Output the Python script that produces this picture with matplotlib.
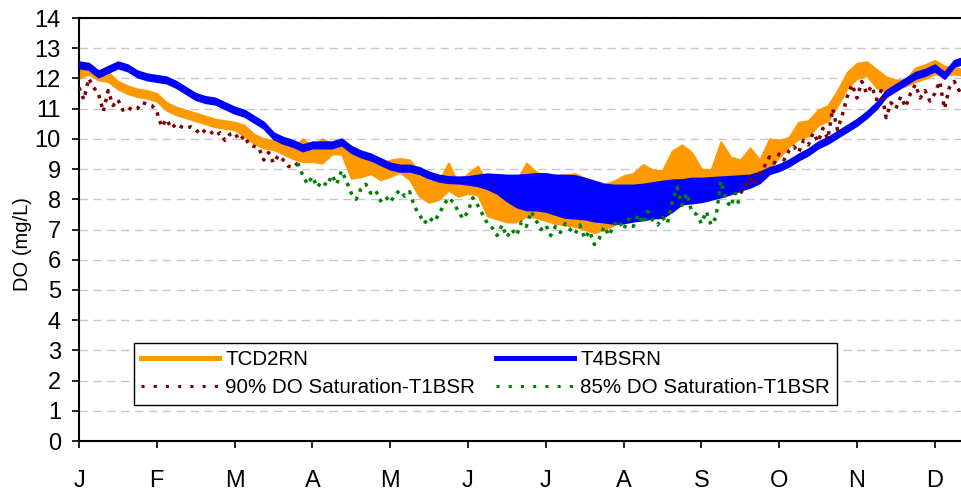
import matplotlib
matplotlib.use("Agg")
import matplotlib.pyplot as plt
from matplotlib.lines import Line2D
import numpy as np

plt.rcParams['font.family'] = ['Liberation Sans', 'DejaVu Sans']

months = ['J', 'F', 'M', 'A', 'M', 'J', 'J', 'A', 'S', 'O', 'N', 'D']

# daily range of DO (mg/L) sampled every 1/8 month from Jan 1
tcd2rn_hi = [12.3, 12.5, 12.2, 12.2, 11.9, 11.75, 11.65, 11.6, 11.5, 11.2,
             11.05, 10.95, 10.85, 10.75, 10.65, 10.6, 10.55, 10.45, 10.15, 10.0,
             9.95, 9.85, 9.7, 10.0, 9.75, 10.0, 9.85, 9.8, 9.5, 9.4,
             9.35, 9.15, 9.3, 9.35, 9.3, 8.9, 8.6, 8.6, 9.2, 8.5,
             8.85, 9.1, 8.5, 8.4, 8.4, 8.6, 9.2, 8.9, 8.8, 8.8,
             8.8, 8.85, 8.7, 8.6, 8.5, 8.6, 8.78, 8.85, 9.15, 8.97,
             8.95, 9.6, 9.8, 9.55, 9.0, 8.97, 9.9, 9.4, 9.3, 9.7,
             9.3, 10.0, 9.95, 10.05, 10.55, 10.6, 10.95, 11.1, 11.6, 12.2,
             12.5, 12.55, 12.3, 12.05, 11.95, 11.95, 12.35, 12.45, 12.6, 12.4,
             12.35, 12.3]
tcd2rn_lo = [12.0, 12.15, 11.95, 11.9, 11.65, 11.5, 11.4, 11.35, 11.25, 10.95,
             10.8, 10.7, 10.6, 10.5, 10.4, 10.35, 10.3, 10.1, 9.85, 9.7,
             9.65, 9.5, 9.35, 9.25, 9.25, 9.2, 9.5, 9.5, 8.7, 8.75,
             8.85, 8.65, 8.75, 8.9, 8.65, 8.1, 7.9, 8.0, 8.3, 8.1,
             8.2, 8.15, 7.45, 7.35, 7.25, 7.25, 7.45, 7.4, 7.3, 7.2,
             7.15, 7.1, 7.0, 6.9, 7.0, 7.15, 7.3, 7.4, 7.45, 7.5,
             7.55, 7.7, 8.6, 8.7, 8.7, 8.72, 8.74, 8.76, 8.78, 8.8,
             8.9, 9.0, 9.4, 9.75, 10.0, 10.1, 10.45, 10.6, 11.1, 11.7,
             12.0, 12.1, 11.7, 11.55, 11.65, 11.75, 11.9, 12.0, 12.15, 12.1,
             12.15, 12.1]

t4bsrn_hi = [12.55, 12.5, 12.25, 12.4, 12.55, 12.45, 12.25, 12.15, 12.1, 12.05,
             11.9, 11.7, 11.5, 11.4, 11.35, 11.2, 11.05, 10.95, 10.75, 10.55,
             10.2, 10.05, 9.95, 9.8, 9.9, 9.9, 9.9, 10.0, 9.75, 9.6,
             9.5, 9.35, 9.2, 9.13, 9.13, 9.05, 8.9, 8.8, 8.75, 8.74,
             8.75, 8.8, 8.84, 8.82, 8.8, 8.8, 8.82, 8.85, 8.85, 8.8,
             8.8, 8.78, 8.7, 8.6, 8.5, 8.47, 8.47, 8.47, 8.5, 8.55,
             8.6, 8.64, 8.65, 8.7, 8.7, 8.72, 8.74, 8.76, 8.78, 8.8,
             8.9, 9.05, 9.15, 9.3, 9.5, 9.67, 9.9, 10.05, 10.25, 10.45,
             10.65, 10.9, 11.2, 11.6, 11.8, 12.0, 12.2, 12.3, 12.45, 12.2,
             12.6, 12.7]
t4bsrn_lo = [12.35, 12.3, 12.05, 12.2, 12.35, 12.25, 12.05, 11.95, 11.9, 11.85,
             11.7, 11.5, 11.3, 11.2, 11.15, 11.0, 10.85, 10.75, 10.55, 10.35,
             10.0, 9.85, 9.75, 9.6, 9.7, 9.7, 9.7, 9.8, 9.55, 9.4,
             9.3, 9.15, 9.0, 8.93, 8.93, 8.85, 8.7, 8.6, 8.55, 8.54,
             8.5, 8.45, 8.35, 8.2, 7.95, 7.75, 7.65, 7.65, 7.6, 7.5,
             7.4, 7.38, 7.35, 7.28, 7.25, 7.2, 7.22, 7.28, 7.32, 7.38,
             7.4, 7.6, 7.85, 7.88, 7.92, 8.0, 8.08, 8.18, 8.3, 8.4,
             8.55, 8.85, 8.95, 9.1, 9.3, 9.47, 9.7, 9.85, 10.05, 10.25,
             10.45, 10.7, 11.0, 11.4, 11.6, 11.8, 12.0, 12.1, 12.25, 12.0,
             12.4, 12.5]

# 90% / 85% saturation at T1BSR, sampled every 1/16 month
sat90_early = [11.7, 11.3, 12.0, 11.7, 11.5, 10.9, 11.6, 11.1, 11.3, 10.95,
               11.05, 10.95, 11.0, 11.2, 11.15, 11.1, 10.9, 10.4, 10.65, 10.35,
               10.5, 10.4, 10.35, 10.4, 10.3, 10.15, 10.3, 10.25, 10.1, 10.2,
               9.95, 10.15, 10.2, 9.95, 10.1, 9.8, 9.75, 9.7, 9.3, 9.55,
               9.2, 9.45, 9.3, 9.1, 9.05, 9.2]
sat85 = [9.2, 8.8, 8.5, 8.75, 8.4, 8.6, 8.45, 8.8, 8.5, 8.95,
         8.6, 8.2, 8.0, 8.35, 8.5, 8.2, 8.3, 7.95, 8.1, 7.9,
         8.15, 8.3, 8.1, 8.25, 7.75, 7.5, 7.2, 7.4, 7.25, 7.5,
         7.8, 8.05, 7.9, 7.6, 7.35, 7.6, 8.05, 7.8, 7.5, 7.2,
         7.05, 6.8, 7.15, 6.75, 7.0, 6.8, 7.25, 7.1, 7.6, 7.3,
         7.0, 7.15, 6.8, 7.1, 6.9, 7.2, 7.0, 6.85, 7.15, 6.7,
         6.95, 6.5, 6.7, 7.1, 6.8, 7.15, 7.3, 7.0, 7.35, 7.1,
         7.5, 7.2, 7.6, 7.3, 7.15, 7.4, 7.2, 7.9, 8.4, 7.8,
         8.2, 7.6, 7.5, 7.2, 7.6, 7.15, 7.4, 8.6, 8.0, 7.75,
         8.2, 7.7]
sat90_late = [8.2, 8.4, 8.7, 8.5, 8.85, 9.1, 9.4, 9.2, 9.5, 9.3,
              9.6, 9.75, 9.55, 9.95, 9.8, 10.2, 9.9, 10.35, 10.0, 11.0,
              10.3, 10.8, 11.4, 11.8, 11.35, 11.9, 11.5, 11.75, 11.3, 11.6,
              10.7, 11.2, 11.0, 11.4, 11.05, 11.5, 11.8, 11.35, 11.6, 11.25,
              11.5, 11.9, 11.0, 11.7, 11.9, 11.6, 11.85]

orange = '#FF9900'
blue = '#0000FF'
maroon = '#800000'
green = '#008000'

t = np.arange(len(tcd2rn_hi)) * 0.125
t_early = np.arange(len(sat90_early)) * 0.0625
t85 = 2.8125 + np.arange(len(sat85)) * 0.0625
t_late = 8.5 + np.arange(len(sat90_late)) * 0.0625

fig = plt.figure(figsize=(9.62, 4.95), dpi=100)
ax = fig.add_axes([79 / 962, 54 / 495, 883 / 962, 423 / 495])

ax.fill_between(t, tcd2rn_lo, tcd2rn_hi, color=orange, lw=1.5, zorder=2)
ax.fill_between(t, t4bsrn_lo, t4bsrn_hi, color=blue, lw=1.5, zorder=3)
# hourly readings make the dotted lines look like scattered dots
data_dots = (0, (1, 1.6))
ax.plot(t_early, sat90_early, color=maroon, lw=2.5, ls=data_dots, zorder=4)
ax.plot(t_late, sat90_late, color=maroon, lw=2.5, ls=data_dots, zorder=4)
ax.plot(t85, sat85, color=green, lw=2.5, ls=data_dots, zorder=4)

ax.set_xlim(0, 11.35)
ax.set_ylim(0, 14)
ax.set_yticks(range(15))
ax.set_xticks(range(12))
ax.set_xticklabels(months)
ax.yaxis.grid(True, color='#C8C8C8', ls=(0, (6, 4)), lw=1)
ax.set_axisbelow(True)
ax.tick_params(axis='y', direction='out', length=5, width=1.2, pad=8, labelsize=17)
ax.tick_params(axis='x', direction='out', length=5, width=1.2, pad=16, labelsize=17)
for side in ['left', 'bottom', 'top']:
    ax.spines[side].set_linewidth(1.5)
ax.spines['right'].set_visible(False)
ax.set_ylabel('DO (mg/L)', fontsize=14.5)
ax.yaxis.set_label_coords(-0.053, 0.466)

legend_dots = (0, (1, 3))
handles = [Line2D([], [], color=orange, lw=3.6),
           Line2D([], [], color=maroon, lw=2.2, ls=legend_dots),
           Line2D([], [], color=blue, lw=3.6),
           Line2D([], [], color=green, lw=2.2, ls=legend_dots)]
labels = ['TCD2RN', '90% DO Saturation-T1BSR', 'T4BSRN', '85% DO Saturation-T1BSR']
leg = ax.legend(handles, labels, ncol=2, loc='upper left',
                bbox_to_anchor=(0.0623, 0.2317), borderaxespad=0,
                fontsize=14.8, handlelength=3.8, handletextpad=0.3,
                columnspacing=1.0, labelspacing=0.45, borderpad=0.35,
                fancybox=False, framealpha=1, edgecolor='black')
leg.get_frame().set_linewidth(1.0)

fig.savefig('out.png', dpi=100)
